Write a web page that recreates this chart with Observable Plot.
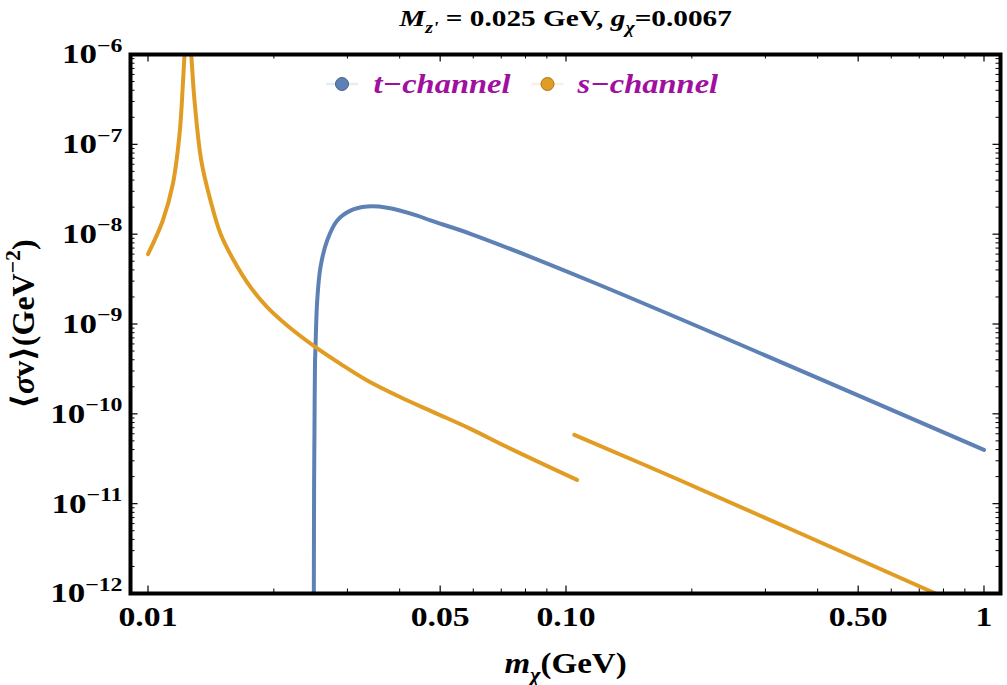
<!DOCTYPE html>
<html><head><meta charset="utf-8">
<script src="https://cdn.jsdelivr.net/npm/d3@7"></script>
<script src="https://cdn.jsdelivr.net/npm/@observablehq/plot@0.6"></script>
<style>body{margin:0;background:#fff}</style>
</head><body><div id="chart"></div>
<script>
// ---- data ----
const tMass  = [0.02493, 0.02497, 0.02502, 0.02509, 0.02516, 0.02540, 0.02586, 0.02683, 0.02836, 0.03051, 0.03345, 0.03734, 0.04406, 0.04741, 0.05908, 0.1145, 1.0];
const tSigma = [1e-12, 1.81e-11, 6.52e-11, 3.63e-10, 5.52e-10, 1.83e-9, 4.29e-9, 8.5e-9, 1.42e-8, 1.83e-8, 2.03e-8, 1.97e-8, 1.61e-8, 1.42e-8, 1.01e-8, 2.99e-9, 3.97e-11];

const sMassLow  = [0.01, 0.01085, 0.01147, 0.0119, 0.01212, 0.01223, 0.01235, 0.01255, 0.01269, 0.01292, 0.01341, 0.01411, 0.01491, 0.01604, 0.01759, 0.01928, 0.02153, 0.02516, 0.02887, 0.03345, 0.04018, 0.04828, 0.05908, 0.0723, 0.1063];
const sSigmaLow = [6.0e-9, 1.42e-8, 3.64e-8, 1.31e-7, 4.7e-7, 1.0e-6, 2.0e-6, 2.0e-6, 1.0e-6, 3.08e-7, 6.6e-8, 2.37e-8, 1.01e-8, 5.09e-9, 2.57e-9, 1.54e-9, 9.62e-10, 5.52e-10, 3.60e-10, 2.35e-10, 1.53e-10, 1.04e-10, 6.81e-11, 4.27e-11, 1.84e-11];
const sMassHigh  = [0.1047, 0.1879, 0.766];
const sSigmaHigh = [5.84e-11, 1.81e-11, 1.0e-12];

const seriesNames = ["t\u2212channel", "s\u2212channel"];
const seriesColors = ["#5E81B5", "#E19C24"];

const xTickMajor = [0.01, 0.05, 0.1, 0.5, 1];
const xTickLabels = ["0.01", "0.05", "0.10", "0.50", "1"];
const xTickMinor = [0.02, 0.03, 0.04, 0.06, 0.07, 0.08, 0.09, 0.2, 0.3, 0.4, 0.6, 0.7, 0.8, 0.9];
const yTickMajor = [1e-12, 1e-11, 1e-10, 1e-9, 1e-8, 1e-7, 1e-6];
const yTickLabels = ["10^{\u221212}", "10^{\u221211}", "10^{\u221210}", "10^{\u22129}", "10^{\u22128}", "10^{\u22127}", "10^{\u22126}"];
const yTickMinor = [];
for (const e of [-12, -11, -10, -9, -8, -7]) for (const k of [2,3,4,5,6,7,8,9]) yTickMinor.push(k * Math.pow(10, e));

const titleText = "~{M}_~{z'} = 0.025 GeV, ~{g}_~{\u03C7}=0.0067";
const xLabelText = "~{m}_~{\u03C7}(GeV)";
const yLabelText = "\u27E8~{\u03C3}v\u27E9(GeV^{\u22122})";

// ---- layout ----
const W = 1007, H = 685;
const mL = 130, mR = 7, mT = 54, mB = 92;
const innerH = H - mT - mB;
const innerW = W - mL - mR;
const purple = "#A0109F";
const FONT = "'Liberation Serif', 'DejaVu Serif', serif";

const tData = tMass.map((m, i) => ({m, v: tSigma[i]}));
const sLow = sMassLow.map((m, i) => ({m, v: sSigmaLow[i]}));
const sHigh = sMassHigh.map((m, i) => ({m, v: sSigmaHigh[i]}));

const majLen = 7.5, minLen = 4.5;
const legendDx = [211.5, 417];
const legendTextDx = [243, 447];

// horizontal stretch of the rendered text (the reference text is wide)
const stretch = new Map();
xTickLabels.forEach(s => stretch.set(s, 1.25));
yTickLabels.forEach(s => stretch.set(s, 1.25));
seriesNames.forEach(s => stretch.set(s, 1.16));
stretch.set(titleText, 1.22);
stretch.set(xLabelText, 1.1);

// short horizontal line symbol for the legend swatch
const dashSymbol = {draw(ctx) { ctx.moveTo(-16, 0); ctx.lineTo(16, 0); }};

const lineOpts = {x: "m", y: "v", strokeWidth: 4, clip: true, strokeLinejoin: "round", curve: "catmull-rom"};
const marks = [
  Plot.line(tData, {...lineOpts, stroke: seriesColors[0]}),
  Plot.line(sLow, {...lineOpts, stroke: seriesColors[1]}),
  Plot.line(sHigh, {...lineOpts, stroke: seriesColors[1]}),
  // x ticks bottom & top
  Plot.tickX(xTickMajor, {x: d => d, insetTop: innerH - majLen, stroke: "black", strokeWidth: 1.2}),
  Plot.tickX(xTickMajor, {x: d => d, insetBottom: innerH - majLen, stroke: "black", strokeWidth: 1.2}),
  Plot.tickX(xTickMinor, {x: d => d, insetTop: innerH - minLen, stroke: "black", strokeWidth: 1}),
  Plot.tickX(xTickMinor, {x: d => d, insetBottom: innerH - minLen, stroke: "black", strokeWidth: 1}),
  // y ticks left & right
  Plot.tickY(yTickMajor, {y: d => d, insetRight: innerW - majLen, stroke: "black", strokeWidth: 1.2}),
  Plot.tickY(yTickMajor, {y: d => d, insetLeft: innerW - majLen, stroke: "black", strokeWidth: 1.2}),
  Plot.tickY(yTickMinor, {y: d => d, insetRight: innerW - minLen, stroke: "black", strokeWidth: 1}),
  Plot.tickY(yTickMinor, {y: d => d, insetLeft: innerW - minLen, stroke: "black", strokeWidth: 1}),
  Plot.frame({stroke: "black", strokeWidth: 4}),
  // tick labels
  Plot.text(xTickMajor, {x: d => d, text: (d, i) => xTickLabels[i], frameAnchor: "bottom", lineAnchor: "middle", dy: 24, fontSize: 27, fontWeight: "bold", fill: "black"}),
  Plot.text(yTickMajor, {y: d => d, text: (d, i) => yTickLabels[i], frameAnchor: "left", lineAnchor: "middle", textAnchor: "end", dx: -8, fontSize: 28, fontWeight: "bold", fill: "black"}),
  // axis labels and title
  Plot.text([xLabelText], {text: d => d, frameAnchor: "bottom", lineAnchor: "middle", textAnchor: "middle", dy: 70, fontSize: 30, fontWeight: "bold", fill: "black"}),
  Plot.text([yLabelText], {text: d => d, frameAnchor: "left", lineAnchor: "middle", textAnchor: "middle", dx: -107, rotate: -90, fontSize: 32, fontWeight: "bold", fill: "black"}),
  Plot.text([titleText], {text: d => d, frameAnchor: "top", lineAnchor: "middle", textAnchor: "middle", dy: -36, fontSize: 24, fontWeight: "bold", fill: "black"})
];
// legend
seriesNames.forEach((name, i) => {
  marks.push(Plot.dot([name], {frameAnchor: "top-left", dx: legendDx[i], dy: 29.5, symbol: dashSymbol, r: 8, fill: "none", stroke: d3.interpolateRgb(seriesColors[i], "white")(0.85), strokeWidth: 2.5}));
  marks.push(Plot.dot([name], {frameAnchor: "top-left", dx: legendDx[i], dy: 29.5, r: 6.5, fill: seriesColors[i], stroke: d3.color(seriesColors[i]).darker(0.8).formatHex(), strokeWidth: 1}));
  marks.push(Plot.text([name], {text: d => d, frameAnchor: "top-left", lineAnchor: "middle", dx: legendTextDx[i], dy: 29.5, textAnchor: "start", fontSize: 28, fontWeight: "bold", fontStyle: "italic", fill: purple}));
});

const svg = Plot.plot({
  width: W, height: H,
  marginLeft: mL, marginRight: mR, marginTop: mT, marginBottom: mB,
  x: {type: "log", domain: [0.009081, 1.0952], axis: null},
  y: {type: "log", domain: [1e-12, 1e-6], axis: null},
  style: {fontFamily: FONT, background: "white", overflow: "visible"},
  marks
});
document.getElementById("chart").appendChild(svg);

// rich text: ^{sup}, _{sub}, ~{italic}
function parseRich(s) {
  const segs = []; let i = 0, buf = "";
  while (i < s.length) {
    let j = i, flags = "";
    while (j < s.length && "^_~".includes(s[j])) { flags += s[j]; j++; }
    if (flags && s[j] === "{") {
      if (buf) { segs.push({t: buf, f: ""}); buf = ""; }
      const k = s.indexOf("}", j);
      segs.push({t: s.slice(j + 1, k), f: flags});
      i = k + 1;
    } else { buf += s[i]; i++; }
  }
  if (buf) segs.push({t: buf, f: ""});
  return segs;
}
d3.select(svg).selectAll("text").each(function() {
  const el = d3.select(this);
  const s = el.text();
  if (s.includes("{")) {
    const fs = parseFloat(getComputedStyle(this).fontSize);
    const segs = parseRich(s);
    el.text(null);
    let off = 0;
    for (const g of segs) {
      const ts = el.append("tspan").text(g.t);
      let target = 0;
      if (g.f.includes("^")) target = -0.42 * fs;
      if (g.f.includes("_")) target = 0.28 * fs;
      if (target !== off) { ts.attr("dy", target - off); off = target; }
      if (g.f.includes("^") || g.f.includes("_")) ts.attr("font-size", 0.68 * fs);
      if (g.f.includes("~")) ts.attr("font-style", "italic");
    }
  }
  const k = stretch.get(s);
  if (k) {
    const len = this.getComputedTextLength();
    el.attr("textLength", len * k).attr("lengthAdjust", "spacingAndGlyphs");
  }
});
</script></body></html>
